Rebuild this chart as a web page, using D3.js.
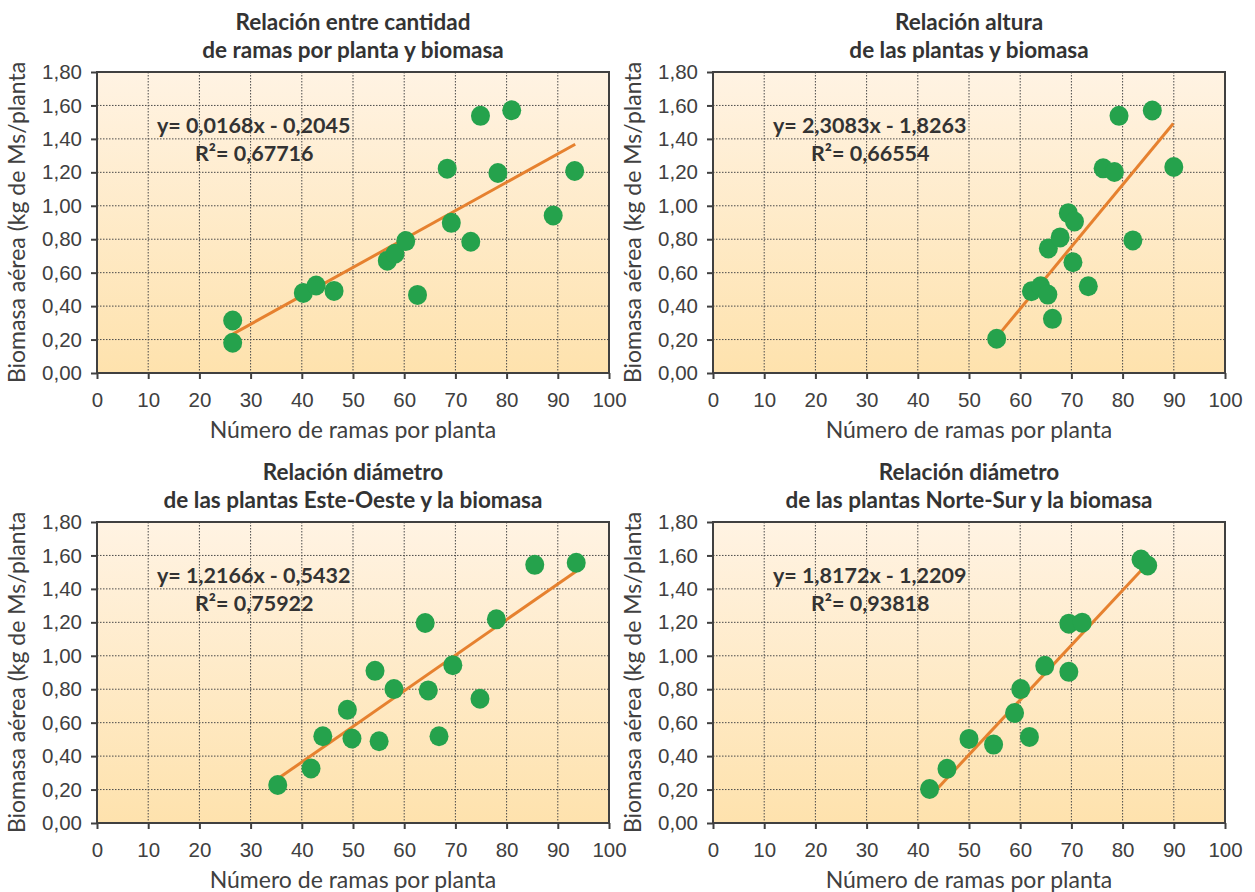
<!DOCTYPE html>
<html>

<head>
	<meta charset="utf-8">
	<script src="https://cdn.jsdelivr.net/npm/d3@7/dist/d3.min.js"></script>
	<style>
		body {
			margin: 0;
			background: #fff;
		}

		svg {
			font-family: Lato, "Open Sans", sans-serif;
		}

		.grid line {
			stroke: #4a4a4a;
			stroke-width: 1;
			stroke-dasharray: 1.5, 1.5;
		}

		.axis path,
		.axis line {
			stroke: #404040;
			stroke-width: 2;
		}

		.axis text {
			fill: #404040;
			font-size: 20.5px;
		}

		.title {
			fill: #333;
			font-weight: bold;
			font-size: 22.5px;
		}

		.label {
			fill: #404040;
			font-size: 23px;
		}

		.eq {
			fill: #333;
			font-weight: bold;
			font-size: 21.5px;
		}

		.dot {
			fill: #25a24c;
		}

		.trend {
			stroke: #e6812f;
			stroke-width: 3;
			fill: none;
		}
	</style>
</head>

<body>
	<svg></svg>
	<script>
		// data
		var titles = [
			["Relación entre cantidad", "de ramas por planta y biomasa"],
			["Relación altura", "de las plantas y biomasa"],
			["Relación diámetro", "de las plantas Este-Oeste y la biomasa"],
			["Relación diámetro", "de las plantas Norte-Sur y la biomasa"]
		];
		var equations = ["y= 0,0168x - 0,2045", "y= 2,3083x - 1,8263", "y= 1,2166x - 0,5432", "y= 1,8172x - 1,2209"];
		var rSquared = ["R²= 0,67716", "R²= 0,66554", "R²= 0,75922", "R²= 0,93818"];

		var ramasX = [26.5, 26.5, 40.3, 42.8, 46.3, 56.7, 58.2, 60.3, 62.6, 68.4, 69.2, 73.0, 74.9, 81.0, 78.3, 89.1, 93.3];
		var ramasY = [0.314, 0.181, 0.479, 0.523, 0.491, 0.672, 0.713, 0.789, 0.467, 1.222, 0.898, 0.785, 1.538, 1.571, 1.196, 0.942, 1.208];

		var alturaX = [55.4, 62.2, 64.0, 65.4, 66.3, 65.5, 67.8, 69.4, 70.6, 70.3, 73.3, 76.2, 78.4, 79.3, 85.8, 82.0, 90.0];
		var alturaY = [0.205, 0.489, 0.519, 0.469, 0.324, 0.745, 0.811, 0.956, 0.906, 0.662, 0.519, 1.224, 1.202, 1.538, 1.570, 0.793, 1.232];

		var esteOesteX = [35.3, 41.8, 44.1, 48.9, 49.8, 54.3, 55.1, 58.0, 64.1, 64.7, 66.8, 69.5, 74.8, 78.0, 85.5, 93.6];
		var esteOesteY = [0.227, 0.326, 0.519, 0.677, 0.505, 0.910, 0.489, 0.801, 1.196, 0.793, 0.519, 0.944, 0.743, 1.218, 1.544, 1.556];

		var norteSurX = [42.3, 45.7, 50.0, 54.8, 58.9, 60.1, 61.8, 64.8, 69.5, 69.5, 72.1, 83.6, 84.9];
		var norteSurY = [0.203, 0.324, 0.503, 0.469, 0.658, 0.801, 0.515, 0.940, 0.904, 1.192, 1.198, 1.576, 1.540];

		// end points of the trend lines
		var trendX = [[26.6, 93.4], [56.1, 89.9], [35.3, 93.6], [43.8, 83.8]];
		var trendY = [[0.234, 1.368], [0.240, 1.492], [0.264, 1.506], [0.205, 1.516]];

		var xTicks = [0, 10, 20, 30, 40, 50, 60, 70, 80, 90, 100];
		var yTicks = [0, 0.2, 0.4, 0.6, 0.8, 1.0, 1.2, 1.4, 1.6, 1.8];
		var xLabel = "Número de ramas por planta";
		var yLabel = "Biomasa aérea (kg de Ms/planta";

		var seriesX = [ramasX, alturaX, esteOesteX, norteSurX];
		var seriesY = [ramasY, alturaY, esteOesteY, norteSurY];

		var totalWidth = 1255;
		var totalHeight = 892;
		var plotW = 512;
		var plotH = 301;
		var origins = [[97, 72], [713, 72], [97, 522], [713, 522]];

		var svg = d3.select("svg")
			.attr("width", totalWidth)
			.attr("height", totalHeight);

		var defs = svg.append("defs");
		var grad = defs.append("linearGradient")
			.attr("id", "bg")
			.attr("x1", 0).attr("y1", 0)
			.attr("x2", 0).attr("y2", 1);
		grad.append("stop").attr("offset", "0%").attr("stop-color", "#fff3e3");
		grad.append("stop").attr("offset", "100%").attr("stop-color", "#fee2ad");

		var x = d3.scaleLinear().domain([0, 100]).range([0, plotW]);
		var y = d3.scaleLinear().domain([0, 1.8]).range([plotH, 0]);
		var fmt = d => d3.format(".2f")(d).replace(".", ",");

		origins.forEach(function (o, i) {
			var g = svg.append("g")
				.attr("transform", "translate(" + o[0] + "," + o[1] + ")");

			g.append("rect")
				.attr("width", plotW)
				.attr("height", plotH)
				.attr("fill", "url(#bg)");

			var grid = g.append("g").attr("class", "grid");
			grid.selectAll(".gx")
				.data(xTicks.slice(1, -1))
				.enter()
				.append("line")
				.attr("x1", d => x(d)).attr("x2", d => x(d))
				.attr("y1", 0).attr("y2", plotH);
			grid.selectAll(".gy")
				.data(yTicks.slice(1, -1))
				.enter()
				.append("line")
				.attr("y1", d => y(d)).attr("y2", d => y(d))
				.attr("x1", 0).attr("x2", plotW);

			g.append("rect")
				.attr("width", plotW)
				.attr("height", plotH)
				.attr("fill", "none")
				.attr("stroke", "#404040")
				.attr("stroke-width", 2);

			g.append("g")
				.attr("class", "axis")
				.attr("transform", "translate(0," + plotH + ")")
				.call(d3.axisBottom(x).tickValues(xTicks).tickSize(6).tickSizeOuter(0).tickPadding(13));

			g.append("g")
				.attr("class", "axis")
				.call(d3.axisLeft(y).tickValues(yTicks).tickFormat(fmt).tickSize(6).tickSizeOuter(0).tickPadding(9));

			g.selectAll(".axis .domain").remove();
			g.selectAll(".axis text").attr("font-family", null);

			g.append("line")
				.attr("class", "trend")
				.attr("x1", x(trendX[i][0])).attr("y1", y(trendY[i][0]))
				.attr("x2", x(trendX[i][1])).attr("y2", y(trendY[i][1]));

			var pts = d3.zip(seriesX[i], seriesY[i]);
			g.selectAll(".dot")
				.data(pts)
				.enter()
				.append("ellipse")
				.attr("class", "dot")
				.attr("cx", d => x(d[0]))
				.attr("cy", d => y(d[1]))
				.attr("rx", 9.5)
				.attr("ry", 10);

			g.append("text")
				.attr("class", "eq")
				.attr("x", 60)
				.attr("y", 53)
				.attr("dy", "0.35em")
				.text(equations[i]);
			g.append("text")
				.attr("class", "eq")
				.attr("x", 98)
				.attr("y", 81)
				.attr("dy", "0.35em")
				.text(rSquared[i]);

			g.selectAll(".title")
				.data(titles[i])
				.enter()
				.append("text")
				.attr("class", "title")
				.attr("text-anchor", "middle")
				.attr("x", plotW / 2)
				.attr("y", (d, k) => -50 + k * 28)
				.attr("dy", "0.35em")
				.text(d => d);

			g.append("text")
				.attr("class", "label")
				.attr("text-anchor", "middle")
				.attr("x", plotW / 2)
				.attr("y", plotH + 57)
				.attr("dy", "0.35em")
				.text(xLabel);

			g.append("text")
				.attr("class", "label")
				.attr("text-anchor", "middle")
				.attr("transform", "translate(-80," + (plotH / 2) + ") rotate(-90)")
				.attr("dy", "0.35em")
				.text(yLabel);
		});
	</script>
</body>

</html>
